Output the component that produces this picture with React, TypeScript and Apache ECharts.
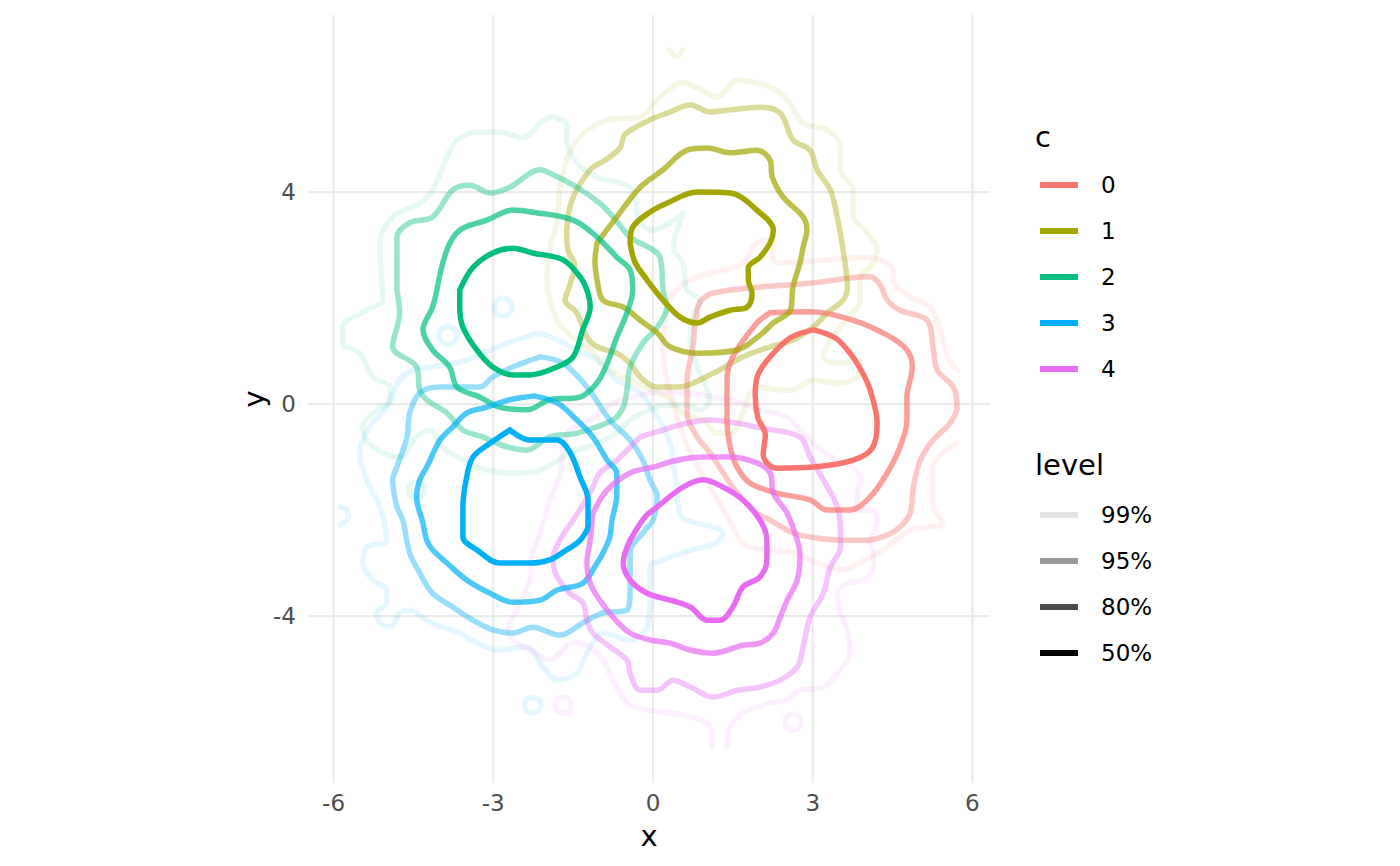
import React, { useEffect, useRef } from "react";
import * as echarts from "echarts";

// ---------- data ----------
const groupNames = ["0", "1", "2", "3", "4"];
const groupColors = ["#F8766D", "#A3A500", "#00BF7D", "#00B0F6", "#E76BF3"];
const levelNames = ["99%", "95%", "80%", "50%"];
const levelAlphas = [0.1, 0.4, 0.7, 1];
const xTicks = [-6, -3, 0, 3, 6];
const yTicks = [-4, 0, 4];
const X_MIN = -6.48;
const X_MAX = 6.33;
const Y_MIN = -7.15;
const Y_MAX = 7.34;

// group 0
const c0_50 = [[3.01,1.40],[3.42,1.25],[3.70,0.96],[3.93,0.60],[4.08,0.26],[4.21,-0.36],[4.12,-0.83],[3.76,-1.06],[3.01,-1.19],[2.33,-1.21],[2.07,-0.96],[2.11,-0.58],[1.97,-0.26],[1.92,0.17],[1.97,0.55],[2.20,0.89],[2.58,1.25]];
const c0_80 = [[2.20,1.72],[2.95,1.74],[3.76,1.58],[4.40,1.30],[4.77,1.02],[4.87,0.70],[4.77,0.13],[4.77,-0.30],[4.64,-0.81],[4.40,-1.30],[4.08,-1.75],[3.70,-2.00],[3.27,-2.00],[2.95,-1.81],[2.33,-1.68],[1.82,-1.49],[1.58,-1.19],[1.45,-0.81],[1.39,-0.30],[1.39,0.45],[1.50,0.89],[1.95,1.53]];
const c0_95 = [[1.07,2.08],[1.45,2.15],[2.01,2.21],[2.58,2.25],[3.14,2.30],[3.70,2.38],[4.08,2.40],[4.27,2.25],[4.40,1.96],[4.64,1.77],[5.15,1.58],[5.26,1.08],[5.34,0.64],[5.64,0.32],[5.71,-0.06],[5.58,-0.36],[5.26,-0.68],[5.02,-1.06],[4.89,-1.57],[4.83,-2.06],[4.64,-2.32],[4.40,-2.47],[4.02,-2.57],[3.57,-2.57],[2.95,-2.51],[2.63,-2.43],[2.20,-2.19],[1.95,-2.06],[1.58,-1.68],[1.32,-1.30],[1.07,-0.92],[0.83,-0.62],[0.64,-0.17],[0.64,0.45],[0.75,1.08],[0.80,1.60],[0.88,1.92]];
const c0_99 = [[5.71,0.64],[5.53,0.89],[5.39,1.40],[5.21,1.83],[4.83,2.02],[4.51,2.34],[4.51,2.53],[4.02,2.77],[3.27,2.72],[2.33,2.66],[2.20,3.09],[1.95,3.04],[1.69,2.66],[1.17,2.49],[0.70,2.34],[0.36,2.06],[0.23,1.58],[0.19,1.02],[0.26,0.45],[0.41,-0.11],[0.60,-0.68],[0.88,-1.25],[1.22,-1.81],[1.48,-2.28],[1.73,-2.66],[2.14,-2.75],[2.63,-2.81],[2.95,-2.94],[3.57,-3.13],[3.89,-3.00],[4.32,-2.75],[4.83,-2.38],[5.45,-2.25],[5.26,-1.94],[5.26,-1.19],[5.71,-0.74]];

// group 1
const c1_50 = [[-0.43,3.04],[-0.38,3.34],[-0.06,3.62],[0.26,3.79],[0.83,4.00],[1.45,3.98],[1.95,3.66],[2.26,3.28],[2.20,3.04],[2.01,2.77],[1.79,2.57],[1.79,2.34],[1.86,2.09],[1.77,1.83],[1.45,1.77],[1.07,1.64],[0.83,1.53],[0.51,1.64],[0.19,1.96],[-0.11,2.34],[-0.34,2.68]];
const c1_80 = [[-1.05,3.04],[-0.68,3.53],[-0.24,4.09],[0.19,4.42],[0.64,4.79],[1.02,4.83],[1.45,4.74],[1.95,4.79],[2.20,4.60],[2.24,4.28],[2.44,3.91],[2.82,3.53],[2.89,3.28],[2.82,2.96],[2.76,2.66],[2.63,2.21],[2.58,1.77],[2.26,1.53],[2.01,1.30],[1.58,1.02],[0.83,0.96],[0.32,1.08],[0.08,1.34],[-0.24,1.58],[-0.56,1.83],[-0.94,1.96],[-1.05,2.34],[-1.09,2.68]];
const c1_95 = [[-1.62,3.28],[-1.52,3.85],[-1.18,4.42],[-0.90,4.60],[-0.62,4.83],[-0.53,5.08],[-0.06,5.36],[0.32,5.51],[0.70,5.64],[1.07,5.51],[1.45,5.55],[2.01,5.60],[2.39,5.49],[2.63,4.98],[2.95,4.79],[3.08,4.42],[3.33,4.04],[3.46,3.53],[3.57,2.91],[3.65,2.21],[3.57,1.96],[3.27,1.72],[3.01,1.45],[2.63,1.21],[2.20,1.08],[1.69,0.89],[1.13,0.58],[0.45,0.32],[0.08,0.32],[-0.24,0.51],[-0.43,0.77],[-0.68,0.96],[-1.05,1.08],[-1.24,1.26],[-1.43,1.72],[-1.65,1.96],[-1.56,2.25],[-1.47,2.62],[-1.60,2.91]];
const c1_99 = [[2.01,0.32],[1.83,0.21],[1.69,-0.17],[1.45,-0.55],[1.20,-0.55],[0.94,-0.30],[0.56,-0.17],[0.30,0.10],[-0.10,0.30],[-0.43,0.45],[-0.81,0.64],[-1.18,1.02],[-1.56,1.30],[-1.80,1.58],[-1.94,1.96],[-1.99,2.34],[-1.94,2.91],[-1.80,3.47],[-1.75,4.04],[-1.62,4.60],[-1.37,5.04],[-0.86,5.36],[-0.24,5.42],[0.08,5.74],[0.56,6.06],[1.02,5.87],[1.20,5.79],[1.58,6.11],[2.20,5.98],[2.52,5.74],[2.82,5.30],[3.27,5.17],[3.52,4.85],[3.52,4.42],[3.76,4.04],[3.76,3.53],[3.98,3.28],[4.21,2.91],[4.14,2.66],[3.89,2.34],[3.89,1.96],[3.57,1.53],[3.20,0.89],[3.52,0.77],[3.89,0.83],[3.83,0.51],[3.46,0.40],[3.01,0.45],[2.58,0.26]];
const c1_99b = [[0.32,6.68],[0.45,6.55],[0.56,6.68]];

// group 2
const c2_50 = [[-3.63,2.15],[-3.38,2.58],[-3.01,2.85],[-2.63,2.94],[-2.26,2.85],[-1.69,2.72],[-1.37,2.40],[-1.24,2.15],[-1.18,1.83],[-1.32,1.40],[-1.50,0.89],[-1.80,0.70],[-2.31,0.55],[-2.63,0.55],[-3.01,0.70],[-3.31,1.02],[-3.57,1.45],[-3.63,1.83]];
const c2_80 = [[-4.06,2.15],[-3.87,2.91],[-3.63,3.28],[-3.12,3.47],[-2.63,3.66],[-2.26,3.62],[-1.50,3.47],[-1.05,3.15],[-0.68,2.77],[-0.43,2.53],[-0.38,2.15],[-0.49,1.72],[-0.68,1.26],[-0.86,0.77],[-1.05,0.40],[-1.37,0.13],[-1.94,0.08],[-2.37,-0.11],[-2.88,-0.06],[-3.25,0.13],[-3.68,0.32],[-3.82,0.70],[-4.14,1.02],[-4.32,1.40],[-4.14,1.83]];
const c2_95 = [[-4.81,2.15],[-4.81,3.15],[-4.57,3.42],[-4.14,3.53],[-3.76,4.04],[-3.44,4.13],[-3.06,3.98],[-2.69,4.09],[-2.12,4.42],[-1.94,4.36],[-1.43,4.09],[-1.00,3.79],[-0.75,3.53],[-0.43,3.15],[0.13,2.77],[0.19,2.15],[0.26,1.83],[0.08,1.45],[-0.19,1.15],[-0.43,0.70],[-0.49,0.26],[-0.56,-0.06],[-0.75,-0.30],[-1.43,-0.55],[-1.94,-0.62],[-2.37,-0.87],[-2.74,-0.81],[-3.20,-0.62],[-3.57,-0.49],[-3.87,-0.17],[-4.25,0.08],[-4.38,0.26],[-4.44,0.70],[-4.89,1.08],[-4.76,1.72]];
const c2_99 = [[-5.08,2.15],[-5.13,3.04],[-4.89,3.53],[-4.38,3.79],[-4.14,4.04],[-3.87,4.66],[-3.68,4.98],[-3.31,5.13],[-2.88,5.13],[-2.44,5.02],[-2.12,5.30],[-1.88,5.42],[-1.62,5.23],[-1.62,4.98],[-1.43,4.55],[-1.05,4.28],[-0.62,4.17],[-0.38,4.04],[-0.30,3.66],[-0.24,3.42],[0.00,3.28],[0.32,3.42],[0.56,3.60],[0.45,3.28],[0.38,2.96],[0.56,2.66],[0.64,2.15],[0.88,1.96],[0.75,1.64],[0.70,1.21],[0.83,0.70],[0.98,0.36],[1.07,0.08],[0.88,-0.11],[0.60,-0.02],[0.23,-0.02],[-0.15,-0.15],[-0.43,-0.30],[-0.68,-0.55],[-1.05,-0.74],[-1.56,-0.92],[-2.12,-1.25],[-2.63,-1.30],[-3.12,-1.25],[-3.57,-1.06],[-3.95,-0.81],[-4.19,-0.49],[-4.44,-0.62],[-4.76,-1.00],[-5.08,-0.92],[-5.38,-0.68],[-5.45,-0.43],[-5.26,-0.17],[-4.94,0.08],[-4.94,0.32],[-5.26,0.51],[-5.51,0.96],[-5.83,1.15],[-5.83,1.45],[-5.38,1.77],[-5.08,1.96]];
const c2_99b = [[-4.44,-1.47],[-4.33,-1.51],[-4.29,-1.62],[-4.33,-1.73],[-4.44,-1.77],[-4.55,-1.73],[-4.59,-1.62],[-4.55,-1.51]];

// group 3
const c3_50 = [[-2.69,-0.49],[-2.31,-0.68],[-1.80,-0.68],[-1.56,-0.91],[-1.37,-1.38],[-1.22,-1.81],[-1.22,-2.28],[-1.37,-2.57],[-1.62,-2.75],[-1.94,-2.94],[-2.31,-3.00],[-2.88,-3.00],[-3.31,-2.75],[-3.57,-2.51],[-3.57,-1.94],[-3.50,-1.38],[-3.38,-1.00],[-3.06,-0.74]];
const c3_80 = [[-2.22,0.15],[-2.69,0.08],[-3.12,-0.06],[-3.50,-0.17],[-3.76,-0.43],[-4.00,-0.68],[-4.25,-1.19],[-4.38,-1.43],[-4.44,-1.75],[-4.32,-2.25],[-4.25,-2.57],[-4.14,-2.75],[-3.87,-3.00],[-3.50,-3.32],[-3.06,-3.57],[-2.63,-3.74],[-2.12,-3.70],[-1.80,-3.51],[-1.32,-3.38],[-1.05,-3.00],[-0.94,-2.81],[-0.81,-2.51],[-0.77,-2.19],[-0.68,-1.72],[-0.68,-1.30],[-0.86,-1.06],[-1.13,-0.62],[-1.43,-0.30],[-1.80,0.02]];
const c3_95 = [[-2.12,0.89],[-1.69,0.77],[-1.24,0.32],[-0.81,-0.30],[-0.43,-0.68],[-0.19,-1.06],[-0.06,-1.43],[0.08,-1.75],[0.00,-2.19],[-0.15,-2.38],[-0.43,-2.81],[-0.43,-3.45],[-0.49,-3.89],[-0.94,-3.94],[-1.32,-4.13],[-1.75,-4.36],[-2.26,-4.21],[-2.63,-4.32],[-3.01,-4.26],[-3.38,-4.08],[-3.76,-3.83],[-4.14,-3.57],[-4.38,-3.19],[-4.57,-2.81],[-4.70,-2.19],[-4.81,-1.94],[-4.89,-1.43],[-4.81,-1.19],[-4.62,-0.62],[-4.57,-0.17],[-4.38,0.21],[-4.00,0.32],[-3.25,0.32],[-3.01,0.51],[-2.63,0.70]];
const c3_99 = [[-2.12,1.34],[-2.74,1.15],[-3.50,0.83],[-4.14,0.70],[-4.51,0.64],[-4.76,0.45],[-5.00,-0.06],[-5.32,-0.43],[-5.51,-0.92],[-5.38,-1.43],[-5.13,-1.94],[-5.00,-2.57],[-5.38,-2.70],[-5.45,-3.00],[-5.26,-3.32],[-5.00,-3.51],[-5.00,-3.75],[-5.19,-3.94],[-5.13,-4.13],[-4.94,-4.21],[-4.76,-3.94],[-4.57,-3.89],[-4.25,-4.08],[-3.95,-4.21],[-3.63,-4.32],[-3.31,-4.51],[-2.88,-4.64],[-2.37,-4.58],[-2.07,-4.96],[-1.80,-5.21],[-1.43,-5.08],[-1.24,-4.70],[-0.94,-4.32],[-0.43,-4.45],[-0.11,-4.21],[-0.06,-3.75],[-0.06,-3.08],[0.19,-2.94],[0.56,-2.81],[0.94,-2.70],[1.20,-2.62],[1.32,-2.43],[1.13,-2.32],[0.83,-2.25],[0.51,-2.09],[0.45,-1.57],[0.38,-1.11],[0.32,-0.74],[0.19,-0.43],[0.00,-0.11],[-0.24,0.21],[-0.68,0.45],[-1.05,0.83],[-1.43,1.02],[-1.80,1.21]];
const c3_99b = [[-2.82,2.00],[-2.70,1.95],[-2.65,1.83],[-2.70,1.71],[-2.82,1.66],[-2.94,1.71],[-2.99,1.83],[-2.94,1.95]];
const c3_99c = [[-3.85,1.47],[-3.73,1.42],[-3.68,1.30],[-3.73,1.18],[-3.85,1.13],[-3.97,1.18],[-4.02,1.30],[-3.97,1.42]];
const c3_99d = [[-2.26,-5.53],[-2.15,-5.57],[-2.11,-5.68],[-2.15,-5.79],[-2.26,-5.83],[-2.37,-5.79],[-2.41,-5.68],[-2.37,-5.57]];
const c3_99e = [[-5.88,-1.94],[-5.75,-2.00],[-5.73,-2.13],[-5.83,-2.25],[-5.88,-2.28]];

// group 4
const c4_50 = [[-0.43,-2.57],[-0.15,-2.13],[0.08,-1.94],[0.56,-1.57],[0.94,-1.43],[1.32,-1.57],[1.69,-1.81],[2.01,-2.19],[2.14,-2.57],[2.14,-2.94],[2.01,-3.26],[1.69,-3.45],[1.50,-3.83],[1.26,-4.08],[1.02,-4.08],[0.70,-3.83],[0.32,-3.70],[-0.11,-3.57],[-0.43,-3.32],[-0.56,-3.00]];
const c4_80 = [[-1.13,-2.06],[-0.86,-1.62],[-0.43,-1.30],[0.00,-1.19],[0.45,-1.06],[0.94,-1.00],[1.45,-1.00],[1.95,-1.11],[2.20,-1.30],[2.26,-1.68],[2.52,-2.06],[2.71,-2.57],[2.76,-2.85],[2.71,-3.32],[2.52,-3.70],[2.39,-4.02],[2.26,-4.32],[2.01,-4.51],[1.69,-4.55],[1.13,-4.70],[0.70,-4.64],[0.32,-4.51],[-0.06,-4.45],[-0.43,-4.32],[-0.75,-4.02],[-1.00,-3.70],[-1.18,-3.38],[-1.24,-3.00],[-1.18,-2.57]];
const c4_95 = [[-0.24,-0.62],[0.19,-0.49],[0.64,-0.36],[1.07,-0.30],[1.58,-0.36],[2.01,-0.45],[2.76,-0.62],[2.95,-1.00],[3.20,-1.43],[3.46,-1.94],[3.52,-2.38],[3.52,-2.70],[3.33,-3.08],[3.20,-3.57],[2.95,-4.02],[2.82,-4.58],[2.71,-4.96],[2.39,-5.21],[2.01,-5.34],[1.58,-5.40],[1.13,-5.53],[0.70,-5.34],[0.38,-5.21],[0.08,-5.40],[-0.24,-5.40],[-0.43,-5.08],[-0.49,-4.83],[-0.81,-4.58],[-1.13,-4.32],[-1.24,-4.08],[-1.32,-3.75],[-1.56,-3.57],[-1.80,-3.26],[-1.88,-2.94],[-1.75,-2.57],[-1.50,-2.19],[-1.32,-1.91],[-1.13,-1.57],[-1.00,-1.30],[-0.68,-1.06]];
const c4_99 = [[1.39,-6.47],[1.45,-6.09],[1.69,-5.83],[2.20,-5.64],[2.52,-5.58],[2.76,-5.40],[3.20,-5.34],[3.46,-5.08],[3.70,-4.70],[3.65,-4.26],[3.52,-3.94],[3.46,-3.57],[3.65,-3.38],[3.95,-3.32],[4.14,-3.08],[4.14,-2.81],[4.08,-2.62],[4.21,-2.19],[4.14,-2.00],[3.83,-2.00],[3.83,-1.75],[3.89,-1.43],[3.76,-1.19],[3.46,-1.06],[3.08,-0.81],[2.76,-0.49],[2.52,-0.25],[2.01,-0.11],[1.45,0.08],[0.88,0.17],[0.32,0.23],[-0.24,0.17],[-0.81,-0.02],[-1.18,-0.30],[-1.56,-0.49],[-1.69,-0.87],[-1.75,-1.34],[-1.94,-1.81],[-2.12,-2.43],[-2.26,-2.81],[-2.31,-3.26],[-2.44,-3.64],[-2.63,-4.02],[-2.74,-4.26],[-2.56,-4.51],[-2.31,-4.64],[-1.94,-4.83],[-1.50,-4.51],[-1.18,-4.58],[-0.94,-4.83],[-0.75,-5.21],[-0.49,-5.64],[-0.11,-5.77],[0.32,-5.83],[0.75,-5.91],[1.07,-6.09],[1.11,-6.47]];
const c4_99b = [[-1.69,-5.53],[-1.58,-5.57],[-1.54,-5.68],[-1.58,-5.79],[-1.69,-5.83],[-1.80,-5.79],[-1.84,-5.68],[-1.80,-5.57]];
const c4_99c = [[2.63,-5.85],[2.74,-5.89],[2.78,-6.00],[2.74,-6.11],[2.63,-6.15],[2.52,-6.11],[2.48,-6.00],[2.52,-5.89]];

// contour table: group index, level index (0 = 99%), points, closed ring?
const contours: { g: number; l: number; pts: number[][]; closed: boolean }[] = [
  { g: 0, l: 0, pts: c0_99, closed: false },
  { g: 1, l: 0, pts: c1_99, closed: true },
  { g: 1, l: 0, pts: c1_99b, closed: false },
  { g: 2, l: 0, pts: c2_99, closed: true },
  { g: 2, l: 0, pts: c2_99b, closed: true },
  { g: 3, l: 0, pts: c3_99, closed: true },
  { g: 3, l: 0, pts: c3_99b, closed: true },
  { g: 3, l: 0, pts: c3_99c, closed: true },
  { g: 3, l: 0, pts: c3_99d, closed: true },
  { g: 3, l: 0, pts: c3_99e, closed: false },
  { g: 4, l: 0, pts: c4_99, closed: false },
  { g: 4, l: 0, pts: c4_99b, closed: true },
  { g: 4, l: 0, pts: c4_99c, closed: true },
  { g: 0, l: 1, pts: c0_95, closed: true },
  { g: 1, l: 1, pts: c1_95, closed: true },
  { g: 2, l: 1, pts: c2_95, closed: true },
  { g: 3, l: 1, pts: c3_95, closed: true },
  { g: 4, l: 1, pts: c4_95, closed: true },
  { g: 0, l: 2, pts: c0_80, closed: true },
  { g: 1, l: 2, pts: c1_80, closed: true },
  { g: 2, l: 2, pts: c2_80, closed: true },
  { g: 3, l: 2, pts: c3_80, closed: true },
  { g: 4, l: 2, pts: c4_80, closed: true },
  { g: 0, l: 3, pts: c0_50, closed: true },
  { g: 1, l: 3, pts: c1_50, closed: true },
  { g: 2, l: 3, pts: c2_50, closed: true },
  { g: 3, l: 3, pts: c3_50, closed: true },
  { g: 4, l: 3, pts: c4_50, closed: true },
];

const FONT = '"DejaVu Sans", sans-serif';
const LINE_W = 5.5;

function buildOption() {
  const gridSeries: any[] = [
    ...xTicks.map((v) => ({
      type: "line",
      data: [[v, Y_MIN], [v, Y_MAX]],
      symbol: "none",
      silent: true,
      z: 1,
      lineStyle: { color: "#ebebeb", width: 2.2 },
    })),
    ...yTicks.map((v) => ({
      type: "line",
      data: [[X_MIN, v], [X_MAX, v]],
      symbol: "none",
      silent: true,
      z: 1,
      lineStyle: { color: "#ebebeb", width: 2.2 },
    })),
  ];

  const contourSeries = contours.map((c, i) => ({
    type: "line",
    name: groupNames[c.g] + " " + levelNames[c.l] + " " + i,
    data: c.closed ? c.pts.concat([c.pts[0]]) : c.pts,
    symbol: "none",
    showSymbol: false,
    smooth: 0.35,
    silent: true,
    z: 3 + c.l,
    lineStyle: {
      color: groupColors[c.g],
      width: LINE_W,
      opacity: levelAlphas[c.l],
      cap: "round",
      join: "round",
    },
  }));

  const txt = (text: string, x: number, y: number, size: number) => ({
    type: "text",
    x,
    y,
    style: {
      text,
      font: `${size}px ${FONT}`,
      fill: "#000",
      align: "left",
      verticalAlign: "middle",
      textAlign: "left",
      textVerticalAlign: "middle",
    },
  });

  const legendEls: any[] = [];
  legendEls.push(txt("c", 1035, 137, 29));
  groupNames.forEach((name, i) => {
    const y = 185 + i * 46;
    legendEls.push({
      type: "line",
      shape: { x1: 1040, y1: y, x2: 1078, y2: y },
      style: { stroke: groupColors[i], lineWidth: 6 },
    });
    legendEls.push(txt(name, 1101, y, 23));
  });
  legendEls.push(txt("level", 1035, 465, 29));
  levelNames.forEach((name, i) => {
    const y = 515 + i * 46;
    legendEls.push({
      type: "line",
      shape: { x1: 1040, y1: y, x2: 1078, y2: y },
      style: { stroke: `rgba(0,0,0,${levelAlphas[i]})`, lineWidth: 6 },
    });
    legendEls.push(txt(name, 1101, y, 23));
  });

  return {
    animation: false,
    backgroundColor: "#ffffff",
    textStyle: { fontFamily: FONT },
    grid: { left: 308, top: 15, width: 682, height: 768, containLabel: false },
    xAxis: {
      type: "value",
      min: X_MIN,
      max: X_MAX,
      axisLine: { show: false },
      axisTick: { show: false },
      splitLine: { show: false },
      axisLabel: { customValues: xTicks, color: "#4d4d4d", fontSize: 23, margin: 8, fontFamily: FONT },
      name: "x",
      nameLocation: "middle",
      nameGap: 38,
      nameTextStyle: { fontSize: 29, color: "#000", fontFamily: FONT },
    },
    yAxis: {
      type: "value",
      min: Y_MIN,
      max: Y_MAX,
      axisLine: { show: false },
      axisTick: { show: false },
      splitLine: { show: false },
      axisLabel: { customValues: yTicks, color: "#4d4d4d", fontSize: 23, margin: 12, fontFamily: FONT },
      name: "y",
      nameLocation: "middle",
      nameGap: 40,
      nameRotate: 90,
      nameTextStyle: { fontSize: 29, color: "#000", fontFamily: FONT },
    },
    series: [...gridSeries, ...contourSeries],
    graphic: legendEls,
  };
}

export default function App() {
  const ref = useRef<HTMLDivElement>(null);
  useEffect(() => {
    if (!ref.current) return;
    const chart = echarts.init(ref.current, null, { renderer: "svg" });
    chart.setOption(buildOption() as any);
    return () => chart.dispose();
  }, []);
  return (
    <div
      ref={ref}
      style={{ position: "fixed", left: 0, top: 0, width: 1400, height: 866, background: "#fff" }}
    />
  );
}
